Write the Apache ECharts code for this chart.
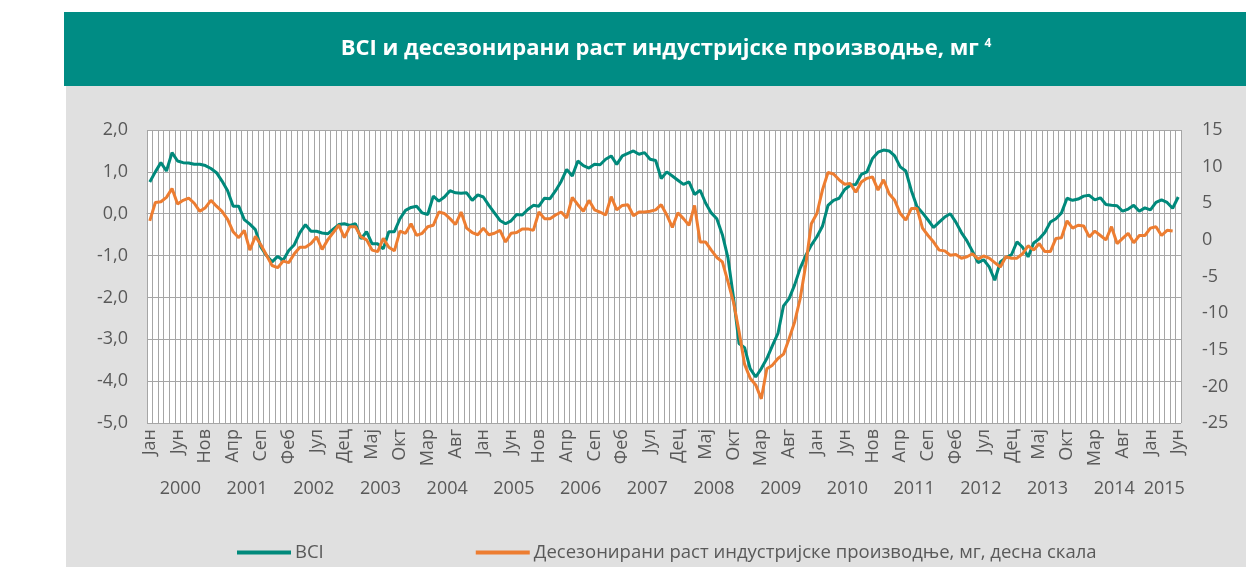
<!DOCTYPE html>
<html>
<head>
<meta charset="utf-8">
<script src="https://cdn.jsdelivr.net/npm/echarts@6/dist/echarts.min.js"></script>
<style>
html, body { margin: 0; padding: 0; background: #fff; }
#chart { width: 1246px; height: 567px; }
</style>
</head>
<body>
<div id="chart"></div>
<script>
var monthNames = ['Јан', 'Феб', 'Мар', 'Апр', 'Мај', 'Јун', 'Јул', 'Авг', 'Сеп', 'Окт', 'Нов', 'Дец'];
var years = ['2000', '2001', '2002', '2003', '2004', '2005', '2006', '2007', '2008', '2009', '2010', '2011', '2012', '2013', '2014', '2015'];

// BCI, lijeva skala (Jan 2000 - Jun 2015)
var bci = [
	0.76, 1.0, 1.22, 1.02, 1.46, 1.26, 1.22, 1.21, 1.18, 1.18, 1.15, 1.08,
	0.98, 0.78, 0.55, 0.18, 0.18, -0.14, -0.25, -0.38, -0.8, -1.0, -1.15, -1.02,
	-1.11, -0.88, -0.74, -0.45, -0.26, -0.42, -0.42, -0.46, -0.48, -0.37, -0.26, -0.24,
	-0.28, -0.24, -0.6, -0.43, -0.72, -0.72, -0.84, -0.43, -0.43, -0.12, 0.08, 0.15,
	0.18, 0.02, -0.02, 0.42, 0.3, 0.4, 0.55, 0.5, 0.49, 0.5, 0.32, 0.45,
	0.4, 0.2, 0.02, -0.16, -0.24, -0.17, -0.02, -0.03, 0.1, 0.2, 0.18, 0.37,
	0.36, 0.55, 0.77, 1.06, 0.9, 1.26, 1.15, 1.09, 1.18, 1.17, 1.3, 1.38,
	1.18, 1.38, 1.44, 1.5, 1.42, 1.46, 1.3, 1.27, 0.84, 1.0, 0.9, 0.8,
	0.7, 0.76, 0.46, 0.56, 0.25, 0.02, -0.12, -0.5, -1.05, -2.0, -3.1, -3.2,
	-3.7, -3.9, -3.7, -3.46, -3.15, -2.86, -2.2, -2.03, -1.7, -1.3, -1.0, -0.75,
	-0.55, -0.3, 0.2, 0.32, 0.37, 0.58, 0.68, 0.7, 0.94, 1.0, 1.32, 1.47,
	1.52, 1.5, 1.38, 1.12, 1.02, 0.55, 0.17, 0.02, -0.15, -0.33, -0.2, -0.08,
	0.0, -0.2, -0.45, -0.65, -0.9, -1.17, -1.1, -1.27, -1.59, -1.15, -1.05, -0.98,
	-0.67, -0.8, -1.03, -0.7, -0.6, -0.45, -0.2, -0.12, 0.02, 0.37, 0.32, 0.35,
	0.42, 0.44, 0.33, 0.38, 0.22, 0.2, 0.19, 0.06, 0.11, 0.2, 0.06, 0.14,
	0.09, 0.27, 0.33, 0.27, 0.13, 0.4
];

// desezonirani rast industrijske proizvodnje, desna skala
var industrija = [
	2.6, 5.1, 5.2, 5.8, 7.0, 4.9, 5.4, 5.7, 5.0, 3.9, 4.4, 5.4,
	4.6, 3.9, 2.8, 1.1, 0.3, 1.3, -1.4, 0.5, -0.7, -2.1, -3.5, -3.8,
	-2.9, -3.1, -1.9, -1.0, -1.0, -0.5, 0.4, -1.3, 0.0, 1.0, 2.0, 0.3,
	1.8, 1.8, 0.4, 0.0, -1.4, -1.6, 0.2, -1.0, -1.5, 1.2, 0.9, 2.2,
	0.6, 0.9, 1.8, 2.0, 3.8, 3.6, 2.9, 2.1, 3.8, 1.6, 1.0, 0.7,
	1.6, 0.7, 0.9, 1.3, -0.3, 0.9, 1.0, 1.5, 1.5, 1.3, 3.8, 2.9,
	2.9, 3.4, 3.8, 3.0, 5.8, 4.8, 3.9, 5.4, 4.1, 3.8, 3.4, 5.9,
	4.1, 4.7, 4.8, 3.3, 3.8, 3.8, 3.9, 4.1, 4.8, 3.4, 1.7, 3.7,
	2.9, 2.0, 4.7, -0.3, -0.3, -1.4, -2.4, -3.0, -5.7, -8.5, -12.5, -17.0,
	-18.9, -19.8, -21.7, -17.6, -17.1, -16.2, -15.6, -13.5, -11.2, -8.0, -3.4, 2.2,
	3.6, 6.8, 9.2, 9.0, 8.2, 7.6, 7.7, 6.5, 7.9, 8.4, 8.6, 6.8,
	8.2, 6.3, 5.4, 3.6, 2.7, 4.3, 4.3, 1.6, 0.6, -0.3, -1.4, -1.5,
	-2.1, -2.0, -2.5, -2.3, -1.9, -2.6, -2.2, -2.5, -3.1, -3.7, -2.3, -2.5,
	-2.5, -1.9, -0.8, -1.4, -0.5, -1.6, -1.6, 0.2, 0.3, 2.6, 1.6, 2.0,
	1.9, 0.4, 1.2, 0.6, 0.0, 1.8, -0.5, 0.2, 0.9, -0.4, 0.6, 0.6,
	1.6, 1.8, 0.6, 1.3, 1.2, null
];

var months = [];
for (var i = 0; i < bci.length; i++) {
	months.push(monthNames[i % 12]);
}
// sredina svake godine na osi
var yearCenters = [];
for (var y = 0; y < years.length; y++) {
	var start = y * 12;
	var len = Math.min(12, bci.length - start);
	yearCenters.push(start + len / 2);
}

var txt = '#595959';
var gridColor = '#A6A6A6';
var font = 'Open Sans';

var chart = echarts.init(document.getElementById('chart'));
chart.setOption({
	animation: false,
	textStyle: { fontFamily: font },
	graphic: [
		{ type: 'rect', shape: { x: 64, y: 12, width: 1182, height: 74 }, style: { fill: '#008C84' }, z: -10 },
		{ type: 'rect', shape: { x: 66, y: 86, width: 1180, height: 481 }, style: { fill: '#E0E0E0' }, z: -10 },
		{ type: 'rect', shape: { x: 147, y: 130, width: 1034, height: 293 }, style: { fill: '#FFFFFF' }, z: -9 }
	],
	title: {
		text: 'BCI и десезонирани раст индустријске производње, мг {s|4}',
		left: 661,
		top: 33,
		textAlign: 'center',
		textStyle: {
			color: '#fff', fontSize: 22, fontWeight: 'bold', fontFamily: font,
			rich: { s: { color: '#fff', fontSize: 12, fontWeight: 'bold', verticalAlign: 'top', padding: [0, 0, 10, 0] } }
		}
	},
	legend: {
		left: 232,
		top: 538,
		icon: 'rect',
		itemGap: 152,
		itemWidth: 54,
		itemHeight: 4,
		textStyle: { color: txt, fontSize: 18.5, fontFamily: font, padding: [0, 0, 0, -1] },
		data: ['BCI', 'Десезонирани раст индустријске производње, мг, десна скала']
	},
	grid: { left: 147, right: 65, top: 130, bottom: 144 },
	xAxis: [{
		type: 'category',
		data: months,
		boundaryGap: true,
		axisLine: { lineStyle: { color: gridColor } },
		axisTick: { show: false },
		splitLine: { show: true, interval: 0, lineStyle: { color: gridColor, width: 1 } },
		axisLabel: { interval: 4, rotate: 90, color: txt, fontSize: 18, margin: 6 }
	}, {
		type: 'value',
		position: 'bottom',
		min: 0,
		max: bci.length,
		axisLine: { show: false },
		axisTick: { show: false },
		splitLine: { show: false },
		axisLabel: {
			customValues: yearCenters,
			color: txt,
			fontSize: 18,
			margin: 57,
			formatter: function(v) {
				return years[Math.floor(v / 12)];
			}
		}
	}],
	yAxis: [{
		type: 'value',
		min: -5,
		max: 2,
		interval: 1,
		axisLine: { show: false },
		axisTick: { show: false },
		splitLine: { lineStyle: { color: gridColor } },
		axisLabel: {
			color: txt, fontSize: 18, margin: 19,
			formatter: function(v) { return v.toFixed(1).replace('.', ','); }
		}
	}, {
		type: 'value',
		min: -25,
		max: 15,
		interval: 5,
		position: 'right',
		axisLine: { show: false },
		axisTick: { show: false },
		splitLine: { show: false },
		axisLabel: { color: txt, fontSize: 18, margin: 21 }
	}],
	series: [{
		name: 'BCI',
		type: 'line',
		xAxisIndex: 0,
		yAxisIndex: 0,
		data: bci,
		symbol: 'none',
		lineStyle: { color: '#00897B', width: 3 },
		itemStyle: { color: '#00897B' }
	}, {
		name: 'Десезонирани раст индустријске производње, мг, десна скала',
		type: 'line',
		xAxisIndex: 0,
		yAxisIndex: 1,
		data: industrija,
		symbol: 'none',
		lineStyle: { color: '#ED7D31', width: 3 },
		itemStyle: { color: '#ED7D31' }
	}]
});
</script>
</body>
</html>
